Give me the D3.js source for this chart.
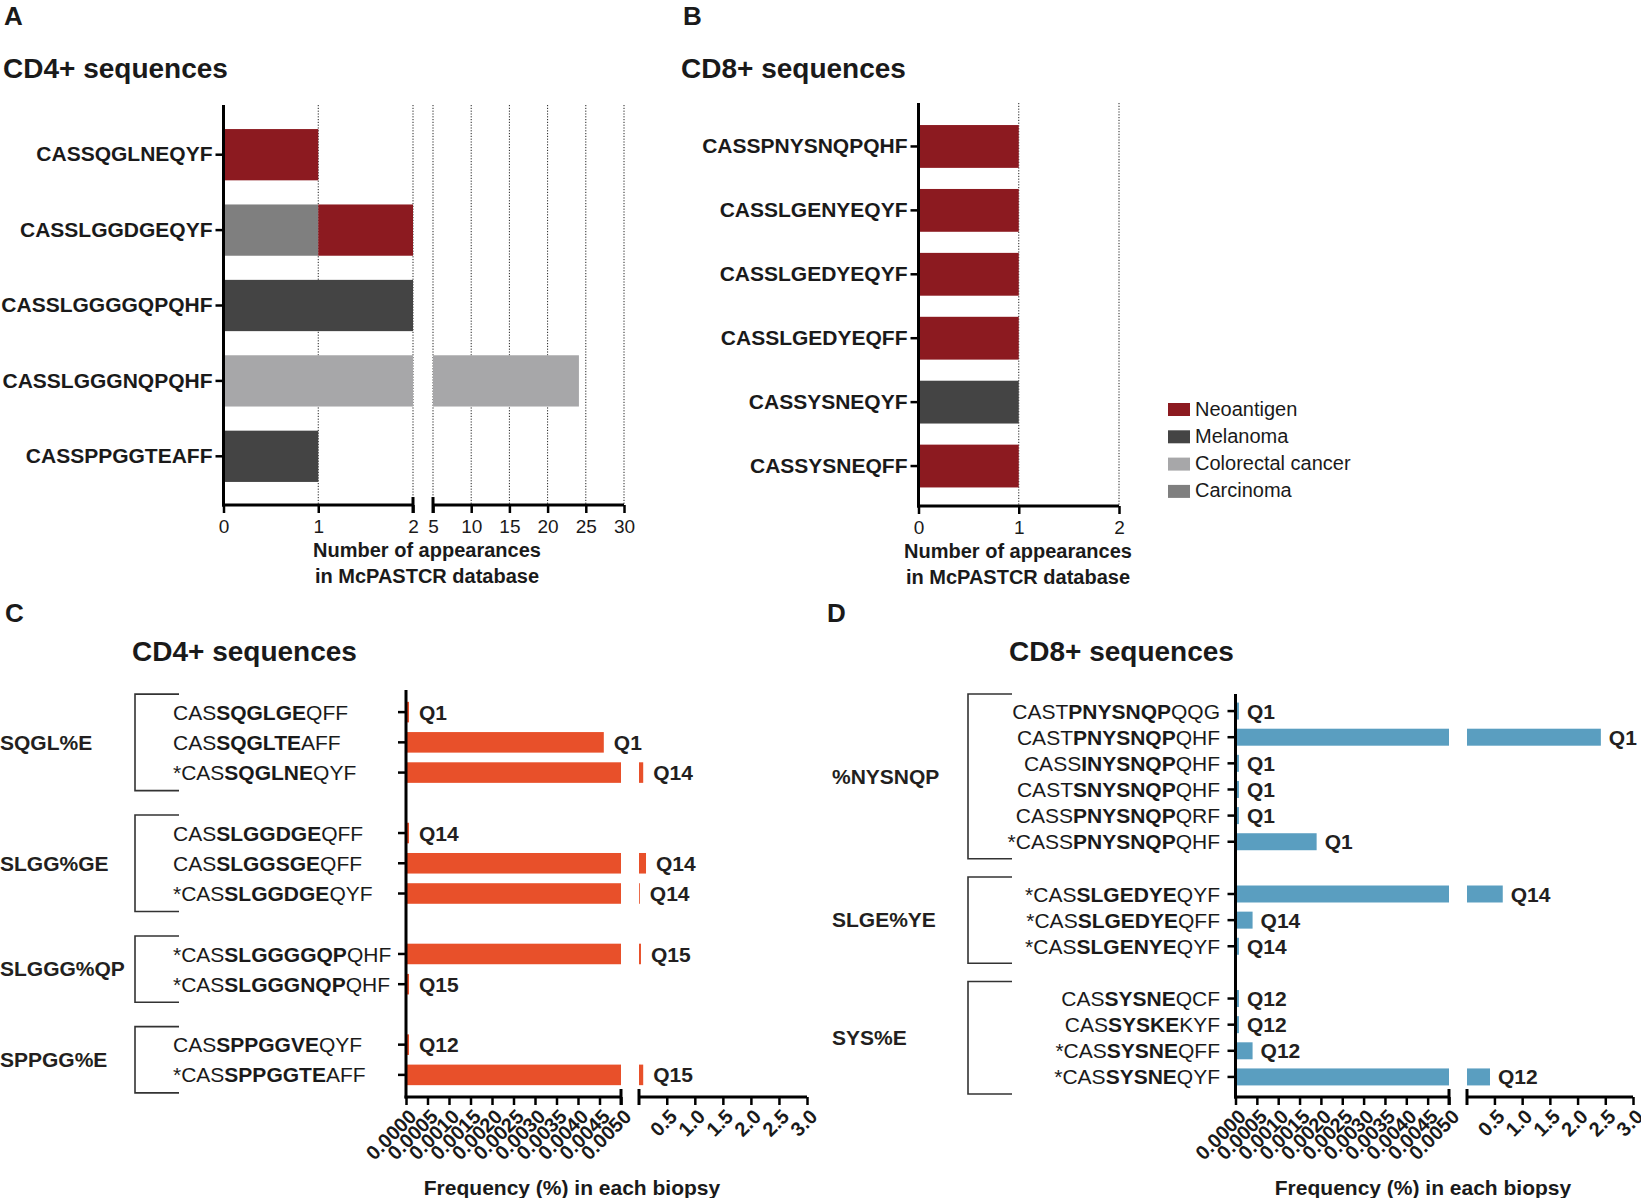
<!DOCTYPE html>
<html>
<head>
<meta charset="utf-8">
<script src="https://cdn.jsdelivr.net/npm/d3@7"></script>
<style>
  body { margin: 0; background: #fff; }
  svg { font-family: "Liberation Sans", Arial, Helvetica, sans-serif; }
</style>
</head>
<body>
<svg id="fig" width="1641" height="1198"></svg>
<script>
// ---- data ----
var legendKeys = ["Neoantigen", "Melanoma", "Colorectal cancer", "Carcinoma"];
var legendColors = ["#8c1a20", "#444444", "#a7a7a9", "#7f7f7f"];
var stackKeys = ["Carcinoma", "Melanoma", "Colorectal cancer", "Neoantigen"];

// panel A: CD4+ appearances in McPASTCR
var cd4Seqs = ["CASSQGLNEQYF", "CASSLGGDGEQYF", "CASSLGGGGQPQHF", "CASSLGGGNQPQHF", "CASSPPGGTEAFF"];
var cd4Neoantigen = [1, 1, 0, 0, 0];
var cd4Melanoma   = [0, 0, 2, 0, 1];
var cd4Colorectal = [0, 0, 0, 24.1, 0];
var cd4Carcinoma  = [0, 1, 0, 0, 0];
var aTicksLeft = [0, 1, 2];
var aTicksRight = [5, 10, 15, 20, 25, 30];

// panel B: CD8+ appearances in McPASTCR
var cd8Seqs = ["CASSPNYSNQPQHF", "CASSLGENYEQYF", "CASSLGEDYEQYF", "CASSLGEDYEQFF", "CASSYSNEQYF", "CASSYSNEQFF"];
var cd8Neoantigen = [1, 1, 1, 1, 0, 1];
var cd8Melanoma   = [0, 0, 0, 0, 1, 0];
var cd8Colorectal = [0, 0, 0, 0, 0, 0];
var cd8Carcinoma  = [0, 0, 0, 0, 0, 0];
var bTicks = [0, 1, 2];

// panel C: CD4+ frequency (%) in each biopsy, bold core in [ ]
var cGroups = ["SQGL%E", "SLGG%GE", "SLGGG%QP", "SPPGG%E"];
var cGroupSizes = [3, 3, 2, 2];
var cRows = ["CAS[SQGLGE]QFF", "CAS[SQGLTE]AFF", "*CAS[SQGLNE]QYF",
             "CAS[SLGGDGE]QFF", "CAS[SLGGSGE]QFF", "*CAS[SLGGDGE]QYF",
             "*CAS[SLGGGGQP]QHF", "*CAS[SLGGGNQP]QHF",
             "CAS[SPPGGVE]QYF", "*CAS[SPPGGTE]AFF"];
var cFreq = [0.00007, 0.0046, 0.08, 0.00007, 0.13, 0.02, 0.04, 0.00007, 0.00007, 0.08];
var cBiopsy = ["Q1", "Q1", "Q14", "Q14", "Q14", "Q14", "Q15", "Q15", "Q12", "Q15"];

// panel D: CD8+ frequency (%) in each biopsy
var dGroups = ["%NYSNQP", "SLGE%YE", "SYS%E"];
var dGroupSizes = [6, 3, 4];
var dRows = ["CAST[PNYSNQP]QQG", "CAST[PNYSNQP]QHF", "CASS[INYSNQP]QHF", "CAST[SNYSNQP]QHF",
             "CASS[PNYSNQP]QRF", "*CASS[PNYSNQP]QHF",
             "*CAS[SLGEDYE]QYF", "*CAS[SLGEDYE]QFF", "*CAS[SLGENYE]QYF",
             "CAS[SYSNE]QCF", "CAS[SYSKE]KYF", "*CAS[SYSNE]QFF", "*CAS[SYSNE]QYF"];
var dFreq = [0.00008, 2.42, 0.00008, 0.00008, 0.00008, 0.0019, 0.65, 0.0004, 0.00008, 0.00008, 0.00008, 0.0004, 0.42];
var dBiopsy = ["Q1", "Q1", "Q1", "Q1", "Q1", "Q1", "Q14", "Q14", "Q14", "Q12", "Q12", "Q12", "Q12"];

var freqTicksLeft = [0, 0.0005, 0.001, 0.0015, 0.002, 0.0025, 0.003, 0.0035, 0.004, 0.0045, 0.005];
var freqTicksRight = [0.5, 1.0, 1.5, 2.0, 2.5, 3.0];

var ink = "#1a1a1a";
var svg = d3.select("#fig");
var color = d3.scaleOrdinal().domain(legendKeys).range(legendColors);

function panelLetter(t, x, y) {
  svg.append("text").attr("x", x).attr("y", y).attr("font-size", 26)
    .attr("font-weight", "bold").attr("fill", ink).text(t);
}
function title(t, x, y) {
  svg.append("text").attr("x", x).attr("y", y).attr("font-size", 28)
    .attr("font-weight", "bold").attr("fill", ink).text(t);
}
function hline(x1, x2, y, w) {
  svg.append("line").attr("x1", x1).attr("x2", x2).attr("y1", y).attr("y2", y)
    .attr("stroke", "#000").attr("stroke-width", w || 3);
}
function vline(x, y1, y2, w) {
  svg.append("line").attr("x1", x).attr("x2", x).attr("y1", y1).attr("y2", y2)
    .attr("stroke", "#000").attr("stroke-width", w || 3);
}
function styleAxis(g, size, weight) {
  g.select(".domain").remove();
  g.selectAll(".tick line").attr("stroke", "#000").attr("stroke-width", 2.5);
  g.selectAll(".tick text").attr("font-size", size).attr("font-weight", weight)
    .attr("fill", ink).attr("font-family", null);
}
function makeRows(sizes) {
  // slot index with one empty slot between groups
  var slots = [], grp = [], s = 0;
  sizes.forEach(function(n, gi) {
    for (var i = 0; i < n; i++) { slots.push(s++); grp.push(gi); }
    s++;
  });
  return { slots: slots, grp: grp, total: s - 1 };
}

// ---------- panels A and B (stacked, appearances) ----------
function appearancePanel(opt) {
  var rows = opt.seqs.map(function(s, i) {
    return { seq: s, "Neoantigen": opt.neo[i], "Melanoma": opt.mel[i],
             "Colorectal cancer": opt.crc[i], "Carcinoma": opt.car[i] };
  });
  var y = d3.scaleBand().domain(opt.seqs).range(opt.yRange)
    .paddingInner(opt.pad).paddingOuter(opt.pad / 2);
  var series = d3.stack().keys(stackKeys)(rows);

  // dotted grid
  var grid = [];
  opt.segs.forEach(function(sg) { sg.ticks.forEach(function(t) { if (t > 0) grid.push(sg.x(t)); }); });
  grid.forEach(function(gx) {
    svg.append("line").attr("x1", gx).attr("x2", gx).attr("y1", opt.top).attr("y2", opt.axisY)
      .attr("stroke", "#222").attr("stroke-width", 1).attr("stroke-dasharray", "1.2,1.6");
  });

  // bars per segment
  opt.segs.forEach(function(sg) {
    var lo = sg.x.domain()[0], hi = sg.x.domain()[1];
    series.forEach(function(s) {
      svg.append("g").selectAll("rect").data(s).enter().append("rect")
        .filter(function(d) { return d[1] > d[0] && d[1] > lo && d[0] < hi; })
        .attr("y", function(d) { return y(d.data.seq); })
        .attr("height", y.bandwidth())
        .attr("x", function(d) { return sg.x(Math.max(d[0], lo)); })
        .attr("width", function(d) { return sg.x(Math.min(d[1], hi)) - sg.x(Math.max(d[0], lo)); })
        .attr("fill", color(s.key));
    });
  });

  // axes
  var x0 = opt.segs[0].x;
  vline(x0(0), opt.top, opt.axisY + 1.5);
  opt.segs.forEach(function(sg, i) {
    var r = sg.x.range();
    hline(i === 0 ? r[0] - 1.5 : r[0], r[1], opt.axisY);
    var g = svg.append("g").attr("transform", "translate(0," + opt.axisY + ")")
      .call(d3.axisBottom(sg.x).tickValues(sg.ticks).tickFormat(d3.format("d"))
        .tickSize(8).tickSizeOuter(0).tickPadding(7));
    styleAxis(g, 19, "normal");
  });
  if (opt.segs.length > 1) {
    vline(opt.segs[0].x.range()[1], opt.axisY - 8, opt.axisY + 8, 3);
    vline(opt.segs[1].x.range()[0], opt.axisY - 8, opt.axisY + 8, 3);
  }
  var gy = svg.append("g").attr("transform", "translate(" + x0(0) + ",0)")
    .call(d3.axisLeft(y).tickSize(8).tickPadding(3));
  styleAxis(gy, 21, "bold");

  // axis title
  var tt = svg.append("text").attr("x", opt.titleX).attr("y", opt.axisY + 52)
    .attr("text-anchor", "middle").attr("font-size", 20).attr("font-weight", "bold").attr("fill", ink);
  tt.append("tspan").attr("x", opt.titleX).text("Number of appearances");
  tt.append("tspan").attr("x", opt.titleX).attr("dy", 26).text("in McPASTCR database");
}

panelLetter("A", 4, 25);
title("CD4+ sequences", 3, 78);
appearancePanel({
  seqs: cd4Seqs, neo: cd4Neoantigen, mel: cd4Melanoma, crc: cd4Colorectal, car: cd4Carcinoma,
  yRange: [117, 494], pad: 0.32, top: 105, axisY: 505, titleX: 427,
  segs: [
    { x: d3.scaleLinear().domain([0, 2]).range([223.5, 413]), ticks: aTicksLeft },
    { x: d3.scaleLinear().domain([5, 30]).range([433, 624]), ticks: aTicksRight }
  ]
});

panelLetter("B", 683, 25);
title("CD8+ sequences", 681, 78);
appearancePanel({
  seqs: cd8Seqs, neo: cd8Neoantigen, mel: cd8Melanoma, crc: cd8Colorectal, car: cd8Carcinoma,
  yRange: [114.5, 498], pad: 0.33, top: 103, axisY: 506, titleX: 1018,
  segs: [
    { x: d3.scaleLinear().domain([0, 2]).range([918.5, 1119]), ticks: bTicks }
  ]
});

// legend
var lg = svg.append("g").attr("transform", "translate(1168,403)");
legendKeys.forEach(function(k, i) {
  lg.append("rect").attr("x", 0).attr("y", i * 27.3).attr("width", 22).attr("height", 13)
    .attr("fill", color(k));
  lg.append("text").attr("x", 27).attr("y", i * 27.3 + 12.5).attr("font-size", 20)
    .attr("fill", ink).text(k);
});

// ---------- panels C and D (frequency, broken x axis) ----------
function freqPanel(opt) {
  var info = makeRows(opt.sizes);
  var y = d3.scaleBand().domain(d3.range(info.total)).range(opt.yRange)
    .paddingInner(opt.pad).paddingOuter(opt.pad / 2);
  var xl = opt.xl, xr = opt.xr;
  var lmax = xl.domain()[1], rmin = xr.domain()[0];
  var rows = opt.rows.map(function(r, i) {
    return { label: r, v: opt.freq[i], q: opt.biopsy[i], slot: info.slots[i], grp: info.grp[i] };
  });
  var cy = function(d) { return y(d.slot) + y.bandwidth() / 2; };

  // brackets and group labels
  opt.groups.forEach(function(name, gi) {
    var gr = rows.filter(function(d) { return d.grp === gi; });
    var y1 = cy(gr[0]) - opt.brPad, y2 = cy(gr[gr.length - 1]) + opt.brPad;
    svg.append("path")
      .attr("d", "M" + opt.brX2 + "," + y1 + "H" + opt.brX1 + "V" + y2 + "H" + opt.brX2)
      .attr("fill", "none").attr("stroke", "#333").attr("stroke-width", 1.6);
    svg.append("text").attr("x", opt.groupX).attr("y", (y1 + y2) / 2)
      .attr("dy", "0.35em").attr("font-size", 21).attr("font-weight", "bold").attr("fill", "#231f20")
      .text(name);
  });

  // row labels with bold core motif
  rows.forEach(function(d) {
    var parts = d.label.split(/[\[\]]/);
    var t = svg.append("text").attr("x", opt.labelX).attr("y", cy(d)).attr("dy", "0.36em")
      .attr("text-anchor", opt.labelAnchor).attr("font-size", 21).attr("fill", ink);
    t.append("tspan").text(parts[0]);
    t.append("tspan").attr("font-weight", "bold").text(parts[1]);
    t.append("tspan").text(parts[2]);
  });

  // bars
  svg.append("g").selectAll("rect").data(rows).enter().append("rect")
    .attr("x", xl(0)).attr("y", function(d) { return y(d.slot); })
    .attr("height", y.bandwidth())
    .attr("width", function(d) { return xl(Math.min(d.v, lmax)) - xl(0); })
    .attr("fill", opt.color);
  svg.append("g").selectAll("rect").data(rows.filter(function(d) { return d.v > rmin; })).enter().append("rect")
    .attr("x", xr(rmin)).attr("y", function(d) { return y(d.slot); })
    .attr("height", y.bandwidth())
    .attr("width", function(d) { return Math.max(0.8, xr(d.v) - xr(rmin)); })
    .attr("fill", opt.color);

  // biopsy labels
  svg.append("g").selectAll("text").data(rows).enter().append("text")
    .attr("x", function(d) { return (d.v > lmax ? xr(d.v) : xl(d.v)) + opt.qGap; })
    .attr("y", cy).attr("dy", "0.36em")
    .attr("font-size", 21).attr("font-weight", "bold").attr("fill", "#231f20")
    .text(function(d) { return d.q; });

  // axes
  vline(xl(0), opt.top, opt.axisY + 1.5);
  var gy = svg.append("g").attr("transform", "translate(" + xl(0) + ",0)")
    .call(d3.axisLeft(y).tickValues(info.slots).tickSize(8).tickFormat(""));
  gy.select(".domain").remove();
  gy.selectAll(".tick line").attr("stroke", "#000").attr("stroke-width", 2.5);

  [[xl, freqTicksLeft, d3.format(".4f")], [xr, freqTicksRight, d3.format(".1f")]].forEach(function(a, i) {
    var r = a[0].range();
    hline(i === 0 ? r[0] - 1.5 : r[0], r[1], opt.axisY);
    var g = svg.append("g").attr("transform", "translate(0," + opt.axisY + ")")
      .call(d3.axisBottom(a[0]).tickValues(a[1]).tickFormat(a[2]).tickSize(8).tickSizeOuter(0));
    styleAxis(g, 20, "bold");
    g.selectAll(".tick text").attr("y", 0).attr("dy", 0)
      .attr("text-anchor", "end").attr("transform", "translate(11,21) rotate(-45)");
  });
  vline(xl.range()[1], opt.axisY - 8, opt.axisY + 8, 3);
  vline(xr.range()[0], opt.axisY - 8, opt.axisY + 8, 3);

  svg.append("text").attr("x", opt.titleX).attr("y", 1195).attr("text-anchor", "middle")
    .attr("font-size", 21).attr("font-weight", "bold").attr("fill", ink)
    .text("Frequency (%) in each biopsy");
}

panelLetter("C", 5, 622);
title("CD4+ sequences", 132, 661);
freqPanel({
  groups: cGroups, sizes: cGroupSizes, rows: cRows, freq: cFreq, biopsy: cBiopsy,
  xl: d3.scaleLinear().domain([0, 0.005]).range([406, 621]),
  xr: d3.scaleLinear().domain([0.005, 3]).range([639, 807]),
  yRange: [697, 1090], pad: 0.32, top: 690, axisY: 1097,
  brX1: 135, brX2: 179, brPad: 18, groupX: 0,
  labelX: 173, labelAnchor: "start", qGap: 10, color: "#e8502a", titleX: 572
});

panelLetter("D", 827, 622);
title("CD8+ sequences", 1009, 661);
freqPanel({
  groups: dGroups, sizes: dGroupSizes, rows: dRows, freq: dFreq, biopsy: dBiopsy,
  xl: d3.scaleLinear().domain([0, 0.005]).range([1235.5, 1449]),
  xr: d3.scaleLinear().domain([0.005, 3]).range([1467, 1633]),
  yRange: [698, 1090], pad: 0.35, top: 694, axisY: 1097,
  brX1: 968, brX2: 1012, brPad: 17, groupX: 832,
  labelX: 1220, labelAnchor: "end", qGap: 8, color: "#5a9ec0", titleX: 1423
});
</script>
</body>
</html>
